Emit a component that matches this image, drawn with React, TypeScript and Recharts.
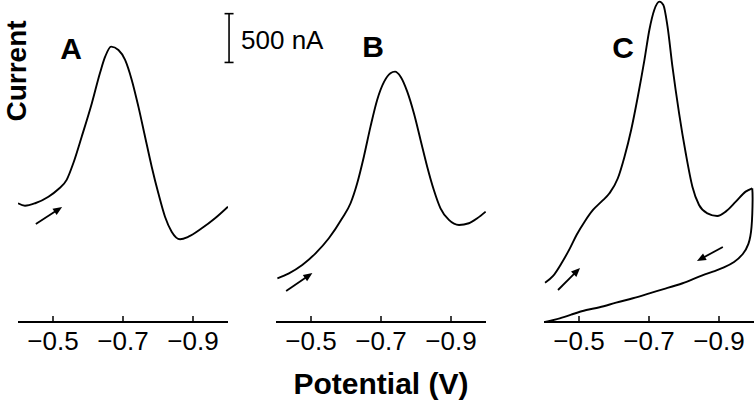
import React from 'react';
import { LineChart, Line, XAxis, YAxis, ReferenceLine } from 'recharts';

// Potential (V) and current (nA)
const aPotential = [-0.400, -0.420, -0.449, -0.487, -0.515, -0.539, -0.558, -0.582, -0.611, -0.634, -0.649, -0.666, -0.687, -0.706, -0.725, -0.744, -0.763, -0.782, -0.801, -0.820, -0.839, -0.863, -0.887, -0.925, -0.963, -1.000];
const aCurrent = [1217, 1192, 1217, 1284, 1360, 1456, 1627, 1899, 2242, 2549, 2719, 2822, 2788, 2686, 2481, 2207, 1899, 1592, 1319, 1079, 926, 848, 874, 960, 1063, 1182];

const bPotential = [-0.404, -0.437, -0.475, -0.513, -0.551, -0.589, -0.613, -0.632, -0.651, -0.670, -0.689, -0.709, -0.727, -0.740, -0.756, -0.775, -0.794, -0.813, -0.832, -0.851, -0.870, -0.894, -0.923, -0.951, -0.975, -0.999];
const bCurrent = [448, 499, 584, 704, 858, 1063, 1217, 1422, 1694, 2002, 2276, 2463, 2549, 2566, 2514, 2361, 2139, 1866, 1592, 1353, 1165, 1046, 994, 1012, 1063, 1131];

const cForwardPotential = [-0.403, -0.426, -0.450, -0.474, -0.493, -0.516, -0.540, -0.564, -0.587, -0.611, -0.630, -0.649, -0.668, -0.687, -0.701, -0.715, -0.730, -0.741, -0.753, -0.767, -0.786, -0.805, -0.824, -0.843, -0.867, -0.895, -0.919, -0.948, -0.976, -0.995];
const cForwardCurrent = [403, 472, 602, 755, 892, 1028, 1148, 1233, 1319, 1473, 1694, 1968, 2309, 2686, 2993, 3198, 3283, 3249, 3027, 2617, 2139, 1729, 1387, 1199, 1114, 1087, 1131, 1233, 1336, 1370];

const cReversePotential = [-0.995, -0.996, -0.993, -0.984, -0.968, -0.943, -0.914, -0.891, -0.843, -0.796, -0.749, -0.701, -0.654, -0.606, -0.559, -0.521, -0.483, -0.445, -0.403];
const cReverseCurrent = [1370, 1251, 977, 800, 697, 615, 559, 526, 464, 397, 345, 294, 243, 198, 151, 123, 82, 38, 0];

const xTicks = [-0.5, -0.7, -0.9];
const xDomain = [-1.0, -0.4];
const yDomain = [0, 3300];

const zip = (p: number[], c: number[]) => p.map((v, i) => ({ v, i: c[i] }));
const aData = zip(aPotential, aCurrent);
const bData = zip(bPotential, bCurrent);
const cForward = zip(cForwardPotential, cForwardCurrent);
const cReverse = zip(cReversePotential, cReverseCurrent);

// arrows: [tail, head] in (V, nA)
const arrowA = [{ x: -0.451, y: 1005 }, { x: -0.526, y: 1179 }];
const arrowB = [{ x: -0.429, y: 318 }, { x: -0.504, y: 502 }];
const arrowC1 = [{ x: -0.440, y: 328 }, { x: -0.503, y: 554 }];
const arrowC2 = [{ x: -0.911, y: 769 }, { x: -0.837, y: 625 }];
const scaleBar = [{ x: -1.003, y: 2660 }, { x: -1.003, y: 3160 }];
const scaleLabel = '500 nA';

const FONT = '"Liberation Sans", Arial, Helvetica, sans-serif';

const Tick = (props: any) => {
  const { x, y, payload } = props;
  const label = '\u2212' + Math.abs(payload.value).toFixed(1);
  return (
    <g>
      <line x1={x} x2={x} y1={y} y2={y - 6} stroke="#000" strokeWidth={1.5} />
      <text x={x} y={y + 28} textAnchor="middle" fontSize={26} fontFamily={FONT} fill="#000">
        {label}
      </text>
    </g>
  );
};

const Arrow = (props: any) => {
  const { x1, y1, x2, y2 } = props;
  const dx = x2 - x1;
  const dy = y2 - y1;
  const len = Math.sqrt(dx * dx + dy * dy) || 1;
  const ux = dx / len;
  const uy = dy / len;
  const hl = 9;
  const hw = 3.8;
  const bx = x2 - ux * hl;
  const by = y2 - uy * hl;
  const pts = `${x2},${y2} ${bx - uy * hw},${by + ux * hw} ${bx + uy * hw},${by - ux * hw}`;
  return (
    <g>
      <line x1={x1} y1={y1} x2={bx + ux * 2} y2={by + uy * 2} stroke="#000" strokeWidth={1.8} />
      <polygon points={pts} fill="#000" />
    </g>
  );
};

const ScaleBar = (props: any) => {
  const { x1, y1, x2, y2 } = props;
  return (
    <g>
      <line x1={x1} y1={y1} x2={x2} y2={y2} stroke="#000" strokeWidth={1.6} />
      <line x1={x1 - 4.5} y1={y1} x2={x1 + 4.5} y2={y1} stroke="#000" strokeWidth={1.6} />
      <line x1={x2 - 4.5} y1={y2} x2={x2 + 4.5} y2={y2} stroke="#000" strokeWidth={1.6} />
      <text x={x1 + 12} y={Math.min(y1, y2) + 35} fontSize={26} fontFamily={FONT} fill="#000">
        {scaleLabel}
      </text>
    </g>
  );
};

const CHART_H = 401;
const margin = (left: number, right: number) => ({ top: 0, right, left, bottom: 49 });

function Panel({ left, width, mLeft, mRight, children }: any) {
  return (
    <div style={{ position: 'absolute', left, top: 0 }}>
      <LineChart width={width} height={CHART_H} margin={margin(mLeft, mRight)}>
        <XAxis
          type="number"
          dataKey="v"
          domain={xDomain}
          reversed
          allowDataOverflow
          ticks={xTicks}
          tickLine={false}
          tickSize={0}
          tickMargin={0}
          tick={<Tick />}
          height={30}
          axisLine={{ stroke: '#000', strokeWidth: 2 }}
        />
        <YAxis type="number" dataKey="i" domain={yDomain} hide allowDataOverflow />
        {children}
      </LineChart>
    </div>
  );
}

export default function App() {
  const lineProps = {
    dataKey: 'i',
    stroke: '#000',
    strokeWidth: 1.9,
    dot: false,
    isAnimationActive: false,
    activeDot: false,
  } as any;
  return (
    <div style={{ position: 'absolute', left: 0, top: 0, width: 756, height: 401, background: '#fff', overflow: 'hidden' }}>
      <Panel left={0} width={400} mLeft={18} mRight={172}>
        <Line {...lineProps} data={aData} type="monotone" />
        <ReferenceLine segment={arrowA} ifOverflow="visible" shape={(p: any) => <Arrow {...p} />} />
        <ReferenceLine segment={scaleBar} ifOverflow="visible" shape={(p: any) => <ScaleBar {...p} />} />
      </Panel>
      <Panel left={260} width={250} mLeft={16} mRight={24}>
        <Line {...lineProps} data={bData} type="monotone" />
        <ReferenceLine segment={arrowB} ifOverflow="visible" shape={(p: any) => <Arrow {...p} />} />
      </Panel>
      <Panel left={510} width={246} mLeft={34} mRight={2}>
        <Line {...lineProps} data={cForward} type="monotone" />
        <Line {...lineProps} data={cReverse} type="natural" />
        <ReferenceLine segment={arrowC1} ifOverflow="visible" shape={(p: any) => <Arrow {...p} />} />
        <ReferenceLine segment={arrowC2} ifOverflow="visible" shape={(p: any) => <Arrow {...p} />} />
      </Panel>
      <svg width={756} height={401} style={{ position: 'absolute', left: 0, top: 0, pointerEvents: 'none' }}>
        <text x={71} y={59} textAnchor="middle" fontSize={30} fontWeight="bold" fontFamily={FONT}>A</text>
        <text x={373} y={57} textAnchor="middle" fontSize={30} fontWeight="bold" fontFamily={FONT}>B</text>
        <text x={623} y={58} textAnchor="middle" fontSize={30} fontWeight="bold" fontFamily={FONT}>C</text>
        <text x={381} y={394} textAnchor="middle" fontSize={30} fontWeight="bold" fontFamily={FONT}>Potential (V)</text>
        <text transform="translate(26,71) rotate(-90)" textAnchor="middle" fontSize={28} fontWeight="bold" fontFamily={FONT}>Current</text>
      </svg>
    </div>
  );
}
